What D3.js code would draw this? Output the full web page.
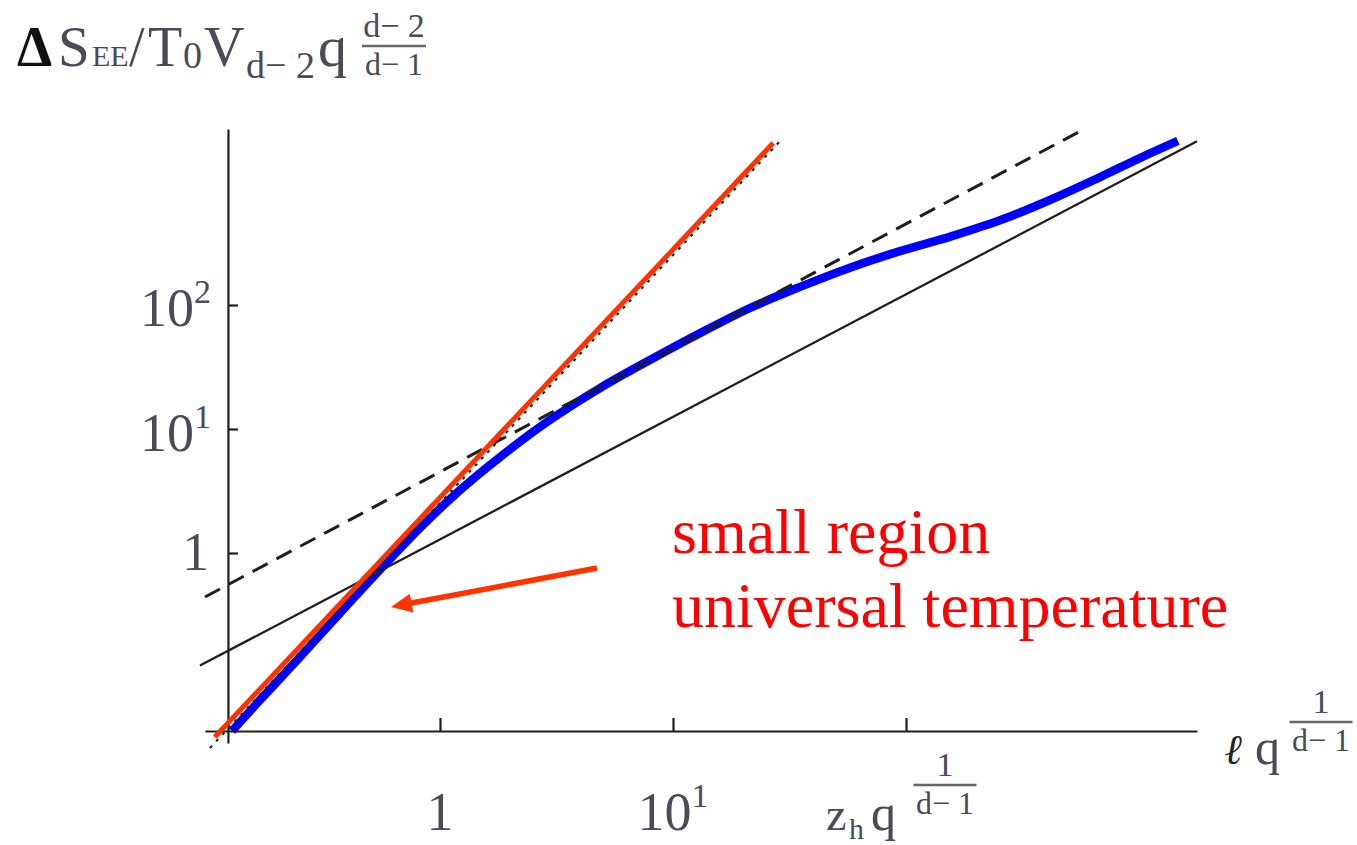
<!DOCTYPE html>
<html>
<head>
<meta charset="utf-8">
<script src="https://cdn.jsdelivr.net/npm/d3@7"></script>
<style>
  html, body { margin: 0; padding: 0; background: #fff; }
  svg { display: block; }
  text { font-family: "Liberation Serif", "Times New Roman", serif; }
</style>
</head>
<body>
<svg id="chart" width="1357" height="845"></svg>
<script>
// tick positions (data values) on the two log axes
var xTicks = [1, 10, 100]
var yTicks = [1, 10, 100]

// entanglement entropy curve (blue)
var curveX = [0.128, 0.169, 0.251, 0.372, 0.552, 0.820, 1.22, 1.81, 2.96, 4.86, 7.96, 13.1, 21.4, 35.1, 57.5, 94.2, 155, 253, 415, 681, 1009, 1469]
var curveY = [0.0367, 0.0653, 0.145, 0.328, 0.730, 1.59, 3.22, 5.94, 11.8, 21.4, 36.0, 59.4, 94.6, 140, 200, 272, 356, 482, 703, 1076, 1531, 2104]

// straight asymptotes, endpoints only
var solidX = [0.0933, 1774]
var solidY = [0.1236, 2089]
var dashedX = [0.098, 558]
var dashedY = [0.442, 2517]
var dottedX = [0.103, 29.6]
var dottedY = [0.0268, 2217]
var redX = [0.108, 26.9]
var redY = [0.0328, 2023]

// annotation arrow (tail -> tip)
var arrowX = [4.72, 0.616]
var arrowY = [0.757, 0.367]

// extent of drawn axes and where they cross
var xAxisRange = [0.098, 1774]
var yAxisRange = [0.0294, 2630]
var xCross = 0.123
var yCross = 0.0367

var svg = d3.select('#chart')
var ink = '#1e1e1e'
var labelInk = '#4a4a58'

var x = d3.scaleLog().domain([1, 100]).range([440, 906])
var y = d3.scaleLog().domain([1, 100]).range([553, 305])

function pts (xs, ys) { return xs.map(function (v, i) { return [v, ys[i]] }) }

var line = d3.line()
    .x(function (d) { return x(d[0]) })
    .y(function (d) { return y(d[1]) })

/*
    --------------------------------------
    Blue curve, under the reference lines
*/
svg.append('path')
    .attr('d', line.curve(d3.curveCatmullRom)(pts(curveX, curveY)))
    .attr('fill', 'none')
    .attr('stroke', '#0000ff')
    .attr('stroke-width', 8.5)
    .attr('stroke-linecap', 'butt')

line.curve(d3.curveLinear)

svg.append('path')
    .attr('d', line(pts(solidX, solidY)))
    .attr('fill', 'none')
    .attr('stroke', ink)
    .attr('stroke-width', 2.3)

svg.append('path')
    .attr('d', line(pts(dashedX, dashedY)))
    .attr('fill', 'none')
    .attr('stroke', ink)
    .attr('stroke-width', 3)
    .attr('stroke-dasharray', '17,10')

svg.append('path')
    .attr('d', line(pts(dottedX, dottedY)))
    .attr('fill', 'none')
    .attr('stroke', ink)
    .attr('stroke-width', 2.2)
    .attr('stroke-dasharray', '3,6')

/*
    --------------------------------------
    Axes
*/
var xa = x.copy().domain(xAxisRange).range(xAxisRange.map(x))
var ya = y.copy().domain(yAxisRange).range(yAxisRange.map(y))

svg.append('g')
    .attr('transform', 'translate(0,' + y(yCross) + ')')
    .call(d3.axisTop(xa).tickValues(xTicks).tickSize(13).tickSizeOuter(0).tickFormat(''))
svg.append('g')
    .attr('transform', 'translate(' + x(xCross) + ',0)')
    .call(d3.axisRight(ya).tickValues(yTicks).tickSize(10).tickSizeOuter(0).tickFormat(''))

svg.selectAll('.domain, .tick line')
    .attr('stroke', ink)
    .attr('stroke-width', 2.2)

/*
    --------------------------------------
    Red x^2 fit and the arrow
*/
var red = '#ff3300'
svg.append('path')
    .attr('d', line(pts(redX, redY)))
    .attr('fill', 'none')
    .attr('stroke', red)
    .attr('stroke-width', 5)

var ax0 = x(arrowX[0]), ay0 = y(arrowY[0])
var ax1 = x(arrowX[1]), ay1 = y(arrowY[1])
var ang = Math.atan2(ay1 - ay0, ax1 - ax0)
var hl = 21, hw = 9.5
var bx = ax1 - hl * Math.cos(ang), by = ay1 - hl * Math.sin(ang)
svg.append('line')
    .attr('x1', ax0).attr('y1', ay0)
    .attr('x2', bx + 4 * Math.cos(ang)).attr('y2', by + 4 * Math.sin(ang))
    .attr('stroke', red)
    .attr('stroke-width', 5.5)
svg.append('path')
    .attr('d', 'M' + ax1 + ',' + ay1 +
      'L' + (bx - hw * Math.sin(ang)) + ',' + (by + hw * Math.cos(ang)) +
      'L' + (bx + hw * Math.sin(ang)) + ',' + (by - hw * Math.cos(ang)) + 'Z')
    .attr('fill', red)

/*
    --------------------------------------
    Tick labels
*/
function power (g, px, py, base, exp, anchor) {
  var t = g.append('text')
      .attr('x', px).attr('y', py)
      .attr('text-anchor', anchor)
      .attr('fill', labelInk)
      .attr('font-size', 54)
  t.append('tspan').text(base)
  if (exp) t.append('tspan').attr('font-size', 34).attr('dy', -23).text(exp)
  return t
}

var xl = svg.append('g')
power(xl, x(1), 830, '1', null, 'middle')
power(xl, x(10), 830, '10', '1', 'middle')

var yl = svg.append('g')
power(yl, 209, y(1) + 17, '1', null, 'end')
power(yl, 211, y(10) + 22, '10', '1', 'end')
power(yl, 211, y(100) + 21, '10', '2', 'end')

// fraction helper: numerator over denominator with a bar
function frac (g, cx, top, num, den, size, w) {
  g.append('text').attr('x', cx).attr('y', top).attr('text-anchor', 'middle')
      .attr('font-size', size).attr('fill', labelInk).text(num)
  g.append('line')
      .attr('x1', cx - w / 2).attr('x2', cx + w / 2)
      .attr('y1', top + 9).attr('y2', top + 9)
      .attr('stroke', '#666').attr('stroke-width', 2.5)
  g.append('text').attr('x', cx).attr('y', top + 38).attr('text-anchor', 'middle')
      .attr('font-size', size - 2).attr('fill', labelInk).text(den)
}

// z_h q^(1/(d-1)) under the third tick
var zl = svg.append('g')
zl.append('text').attr('x', 826).attr('y', 830).attr('font-size', 46).attr('fill', labelInk).text('z')
zl.append('text').attr('x', 849).attr('y', 839).attr('font-size', 30).attr('fill', labelInk).text('h')
zl.append('text').attr('x', 871).attr('y', 830).attr('font-size', 50).attr('fill', labelInk).text('q')
frac(zl, 945, 776, '1', 'd\u2212 1', 34, 63)

/*
    --------------------------------------
    Axis titles
*/
var xt = svg.append('g')
xt.append('text').attr('x', 1225).attr('y', 764).attr('font-size', 42)
    .attr('font-weight', 'bold').attr('font-style', 'italic')
    .attr('font-family', '"DejaVu Serif", serif').attr('fill', '#222').text('\u2113')
xt.append('text').attr('x', 1255).attr('y', 764).attr('font-size', 50).attr('fill', labelInk).text('q')
frac(xt, 1321, 713, '1', 'd\u2212 1', 34, 63)

var yt = svg.append('g')
function ylab (px, py, s, size, extra) {
  var t = yt.append('text').attr('x', px).attr('y', py).attr('font-size', size).attr('fill', labelInk).text(s)
  if (extra) extra(t)
  return t
}
ylab(17, 66, '\u0394', 56, function (t) { t.attr('font-weight', 'bold').attr('fill', '#111') })
ylab(58, 66, 'S', 57)
ylab(92, 66, 'EE', 30)
ylab(129, 66, '/', 56)
ylab(148, 66, 'T', 56)
ylab(183, 68, '0', 38)
ylab(204, 66, 'V', 56)
ylab(246, 78, 'd\u2212 2', 38)
ylab(318, 66, 'q', 58)
frac(yt, 394, 37, 'd\u2212 2', 'd\u2212 1', 34, 64)

/*
    --------------------------------------
    Annotation text
*/
svg.append('text').attr('x', 672).attr('y', 553).attr('font-size', 64).attr('fill', '#ff0000').text('small region')
svg.append('text').attr('x', 672).attr('y', 627).attr('font-size', 64).attr('fill', '#ff0000').text('universal temperature')
</script>
</body>
</html>
